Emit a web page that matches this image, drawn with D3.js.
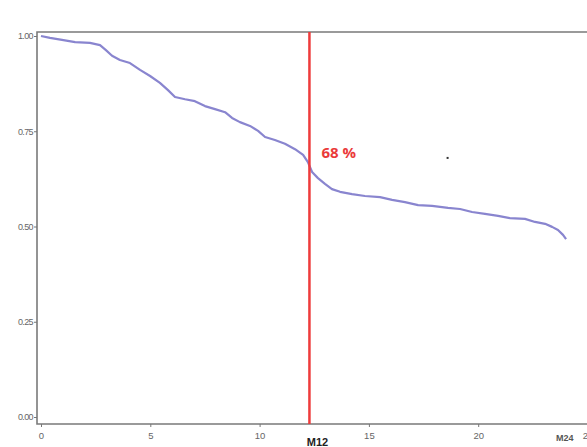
<!DOCTYPE html>
<html>
<head>
<meta charset="utf-8">
<script src="https://cdn.jsdelivr.net/npm/d3@7"></script>
<style>
  body { margin: 0; background: #fff; }
  svg { display: block; font-family: "Liberation Sans", Arial, sans-serif; }
</style>
</head>
<body>
<svg id="chart"></svg>
<script>
// survival curve (months, proportion surviving)
var times = [0, 0.41, 0.96, 1.56, 2.24, 2.7, 2.97, 3.25, 3.61, 4.07, 4.53, 4.99, 5.44, 5.81,
  6.13, 6.59, 7.04, 7.5, 7.96, 8.42, 8.74, 9.1, 9.56, 9.93, 10.25, 10.7, 11.16, 11.62, 11.99,
  12.21, 12.4, 12.67, 12.99, 13.31, 13.68, 14.23, 14.82, 15.51, 16.06, 16.65, 17.25, 17.89,
  18.62, 19.17, 19.72, 20.31, 20.91, 21.45, 22.14, 22.6, 23.06, 23.38, 23.65, 23.88, 24.02];
var survival = [1.0, 0.995, 0.99, 0.984, 0.982, 0.976, 0.963, 0.948, 0.937, 0.929, 0.911, 0.895,
  0.877, 0.858, 0.84, 0.834, 0.829, 0.816, 0.808, 0.8, 0.785, 0.774, 0.764, 0.751, 0.735, 0.727,
  0.717, 0.703, 0.688, 0.669, 0.643, 0.627, 0.612, 0.598, 0.591, 0.585, 0.58, 0.577, 0.57,
  0.564, 0.556, 0.554, 0.549, 0.546, 0.538, 0.533, 0.528, 0.522, 0.52, 0.512, 0.507, 0.499,
  0.491, 0.478, 0.467];
var xTicks = [0, 5, 10, 15, 20, 25];
var yTicks = [0, 0.25, 0.5, 0.75, 1];
var marker = { t: 12.28, label: "M12", text: "68 %" };
var marker2 = { t: 24.6, label: "M24" };
var stray = { t: 18.6, s: 0.68 };

var width = 587, height = 447;
var svg = d3.select("#chart").attr("width", width).attr("height", height);

var x = d3.scaleLinear().domain([0, 25]).range([41, 587.5]);
var y = d3.scaleLinear().domain([0, 1]).range([417, 36]);

var frameLeft = 37, frameTop = 32, frameBottom = 424;

// frame
svg.append("path")
  .attr("d", "M" + (width + 2) + "," + frameTop + "H" + frameLeft + "V" + frameBottom + "H" + (width + 2))
  .attr("fill", "none")
  .attr("stroke", "#7a7a7a")
  .attr("stroke-width", 1.6);

// y axis
var yAxis = svg.append("g").attr("transform", "translate(" + frameLeft + ",0)")
  .call(d3.axisLeft(y).tickValues(yTicks).tickFormat(d3.format(".2f")).tickSize(3).tickPadding(1));
yAxis.select(".domain").remove();
yAxis.selectAll("line").attr("stroke", "#777");
yAxis.selectAll("text").attr("fill", "#666").attr("font-size", 9).style("letter-spacing", "-0.6px");

// x axis
var xAxis = svg.append("g").attr("transform", "translate(0," + frameBottom + ")")
  .call(d3.axisBottom(x).tickValues(xTicks).tickFormat(d3.format("d")).tickSize(3).tickPadding(5));
xAxis.select(".domain").remove();
xAxis.selectAll("line").attr("stroke", "#777");
xAxis.selectAll("text").attr("fill", "#666").attr("font-size", 9.5);

// curve
var line = d3.line()
  .x(function (d, i) { return x(times[i]); })
  .y(function (d) { return y(d); });

svg.append("path")
  .datum(survival)
  .attr("d", line)
  .attr("fill", "none")
  .attr("stroke", "#8985cf")
  .attr("stroke-width", 2.2)
  .attr("stroke-linejoin", "round");

// stray dot in the original
svg.append("rect")
  .attr("x", x(stray.t) - 1).attr("y", y(stray.s) - 1)
  .attr("width", 2).attr("height", 2)
  .attr("fill", "#333");

// M12 marker
svg.append("line")
  .attr("x1", x(marker.t)).attr("x2", x(marker.t))
  .attr("y1", frameTop).attr("y2", frameBottom)
  .attr("stroke", "#ee3b3b")
  .attr("stroke-width", 2.5);

svg.append("text")
  .attr("x", x(marker.t) + 12).attr("y", 158)
  .attr("fill", "#ea3a3a")
  .attr("font-size", 15).attr("font-weight", "bold")
  .attr("font-family", "'Open Sans', sans-serif")
  .text(marker.text);

svg.append("text")
  .attr("x", x(marker.t) + 8).attr("y", 446)
  .attr("text-anchor", "middle")
  .attr("fill", "#222")
  .attr("font-size", 11).attr("font-weight", "bold")
  .text(marker.label);

svg.append("text")
  .attr("x", x(marker2.t) - 14).attr("y", 441)
  .attr("text-anchor", "middle")
  .attr("fill", "#555")
  .attr("font-size", 9).attr("font-weight", "bold")
  .text(marker2.label);
</script>
</body>
</html>
